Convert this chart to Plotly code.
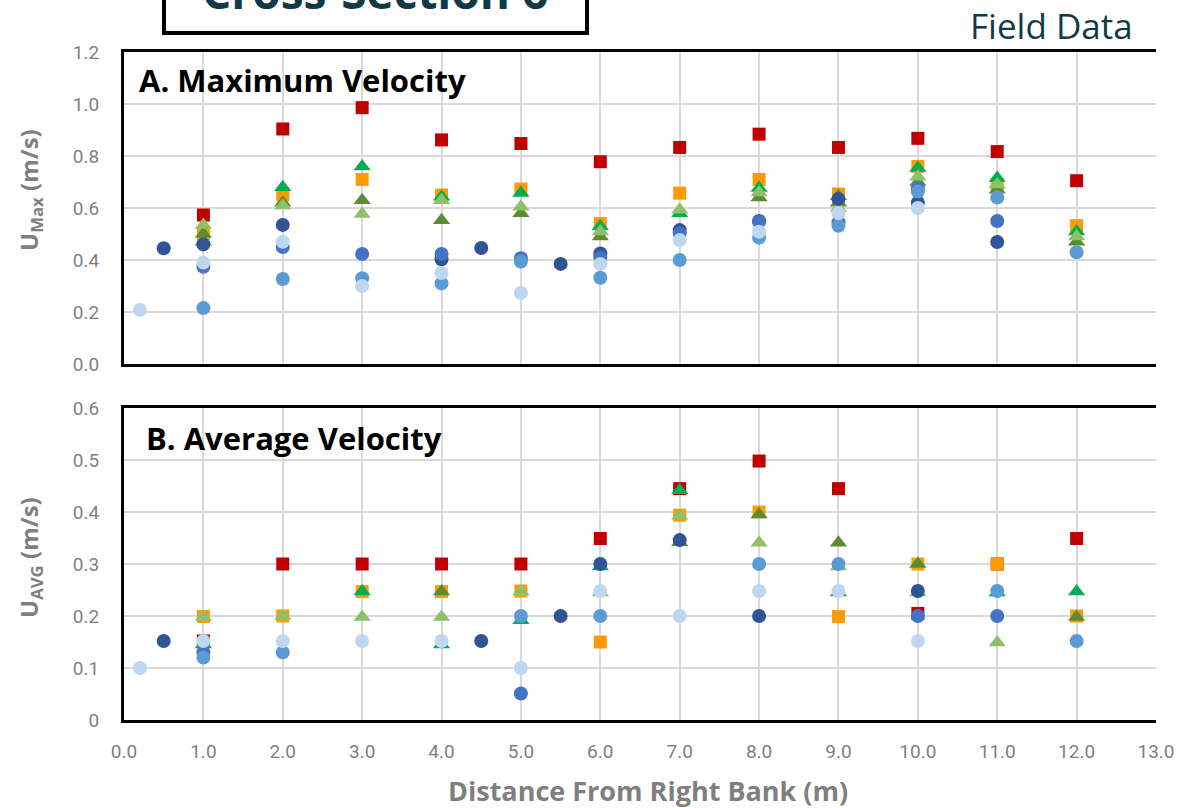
import plotly.graph_objects as go
from plotly.subplots import make_subplots

# ---------------- data ----------------
# Panel A: maximum velocity (m/s) vs distance from right bank (m)
umax_red_x = [1, 2, 3, 4, 5, 6, 7, 8, 9, 10, 11, 12]
umax_red_y = [0.573, 0.904, 0.986, 0.862, 0.848, 0.778, 0.833, 0.884, 0.833, 0.868, 0.817, 0.705]
umax_orange_x = [1, 2, 3, 4, 5, 6, 7, 8, 9, 10, 11, 12]
umax_orange_y = [0.50, 0.65, 0.71, 0.65, 0.673, 0.54, 0.657, 0.71, 0.654, 0.76, 0.69, 0.532]
umax_green_x = [1, 2, 3, 4, 5, 6, 7, 8, 9, 10, 11, 12]
umax_green_y = [0.47, 0.68, 0.76, 0.643, 0.658, 0.53, 0.58, 0.677, 0.645, 0.754, 0.715, 0.51]
umax_olive_x = [1, 2, 3, 4, 5, 6, 8, 9, 10, 11, 12]
umax_olive_y = [0.50, 0.62, 0.63, 0.553, 0.58, 0.49, 0.64, 0.62, 0.70, 0.67, 0.47]
umax_lgreen_x = [1, 2, 3, 4, 5, 6, 7, 8, 9, 10, 11, 12]
umax_lgreen_y = [0.535, 0.61, 0.577, 0.63, 0.605, 0.51, 0.593, 0.66, 0.60, 0.72, 0.69, 0.49]
umax_navy_x = [0.5, 1, 2, 4, 4.5, 5.5, 6, 7, 8, 9, 10, 11]
umax_navy_y = [0.445, 0.46, 0.535, 0.403, 0.446, 0.385, 0.425, 0.515, 0.55, 0.635, 0.62, 0.469]
umax_blue_x = [1, 2, 3, 4, 5, 6, 7, 8, 9, 10, 11]
umax_blue_y = [0.374, 0.45, 0.423, 0.423, 0.407, 0.41, 0.503, 0.547, 0.545, 0.675, 0.55]
umax_sky_x = [1, 2, 3, 4, 5, 6, 7, 8, 9, 10, 11, 12]
umax_sky_y = [0.215, 0.327, 0.33, 0.31, 0.394, 0.332, 0.40, 0.486, 0.532, 0.663, 0.64, 0.43]
umax_pale_x = [0.2, 1, 2, 3, 4, 5, 6, 7, 8, 9, 10]
umax_pale_y = [0.208, 0.39, 0.47, 0.30, 0.35, 0.273, 0.385, 0.477, 0.509, 0.58, 0.60]

# Panel B: average velocity (m/s)
uavg_red_x = [1, 2, 3, 4, 5, 6, 7, 8, 9, 10, 11, 12]
uavg_red_y = [0.152, 0.30, 0.30, 0.30, 0.30, 0.349, 0.445, 0.498, 0.445, 0.205, 0.30, 0.349]
uavg_orange_x = [1, 2, 3, 4, 5, 6, 7, 8, 9, 10, 11, 12]
uavg_orange_y = [0.199, 0.20, 0.247, 0.247, 0.248, 0.15, 0.394, 0.40, 0.199, 0.30, 0.30, 0.20]
uavg_green_x = [1, 3, 4, 5, 6, 7, 9, 11, 12]
uavg_green_y = [0.145, 0.247, 0.145, 0.192, 0.295, 0.442, 0.245, 0.245, 0.247]
uavg_olive_x = [4, 7, 8, 9, 10, 12]
uavg_olive_y = [0.247, 0.342, 0.395, 0.341, 0.30, 0.198]
uavg_lgreen_x = [1, 2, 3, 4, 5, 6, 7, 8, 9, 10, 11]
uavg_lgreen_y = [0.198, 0.20, 0.198, 0.198, 0.247, 0.245, 0.393, 0.341, 0.295, 0.245, 0.149]
uavg_navy_x = [0.5, 4.5, 5.5, 6, 7, 8, 10]
uavg_navy_y = [0.152, 0.152, 0.20, 0.30, 0.346, 0.20, 0.248]
uavg_blue_x = [1, 5, 10, 11]
uavg_blue_y = [0.13, 0.051, 0.20, 0.20]
uavg_sky_x = [1, 2, 5, 6, 8, 9, 11, 12]
uavg_sky_y = [0.12, 0.13, 0.20, 0.20, 0.30, 0.30, 0.248, 0.152]
uavg_pale_x = [0.2, 1, 2, 3, 4, 5, 6, 7, 8, 9, 10]
uavg_pale_y = [0.10, 0.152, 0.152, 0.152, 0.152, 0.10, 0.248, 0.20, 0.248, 0.248, 0.152]

x_tick_vals = [0, 1, 2, 3, 4, 5, 6, 7, 8, 9, 10, 11, 12, 13]
x_tick_text = ["0.0", "1.0", "2.0", "3.0", "4.0", "5.0", "6.0", "7.0", "8.0",
               "9.0", "10.0", "11.0", "12.0", "13.0"]
umax_tick_vals = [0, 0.2, 0.4, 0.6, 0.8, 1.0, 1.2]
umax_tick_text = ["0.0", "0.2", "0.4", "0.6", "0.8", "1.0", "1.2"]
uavg_tick_vals = [0, 0.1, 0.2, 0.3, 0.4, 0.5, 0.6]
uavg_tick_text = ["0", "0.1", "0.2", "0.3", "0.4", "0.5", "0.6"]

# ---------------- styling ----------------
W, H = 1191, 808
ML, MR = 124, 35
FONT = "Roboto"
TFONT = "Open Sans"
GREY = "#7f7f7f"
TEAL = "#123a46"
GRID = "#d9d9d9"

# drawing order: squares, then triangles, then circles
styles = [
    ("red", "square", "#c00000", 13),
    ("orange", "square", "#ff9a00", 13),
    ("green", "triangle-up", "#00b050", 15),
    ("olive", "triangle-up", "#5b8c32", 15),
    ("lgreen", "triangle-up", "#8cc168", 15),
    ("navy", "circle", "#2f5597", 14),
    ("blue", "circle", "#4472c4", 14),
    ("sky", "circle", "#5b9bd5", 14),
    ("pale", "circle", "#bdd7ee", 14),
]
g = globals()

fig = make_subplots(rows=2, cols=1, shared_xaxes=False)
for row, prefix in [(1, "umax"), (2, "uavg")]:
    for key, sym, col, size in styles:
        fig.add_trace(
            go.Scatter(
                x=g[f"{prefix}_{key}_x"], y=g[f"{prefix}_{key}_y"],
                mode="markers",
                marker=dict(symbol=sym, color=col, size=size, line=dict(width=0)),
                showlegend=False, hoverinfo="x+y",
            ),
            row=row, col=1,
        )


# pixel -> paper helpers (paper spans the area inside the margins)
def py(pix):
    return 1 - pix / H


def px(pix):
    return (pix - ML) / (W - ML - MR)


top_dom = [py(364), py(52)]
bot_dom = [py(720), py(408)]

axis_common = dict(
    range=[0, 13], tickvals=x_tick_vals, ticktext=x_tick_text,
    showgrid=True, gridcolor=GRID, gridwidth=1.5,
    showline=True, mirror=True, linecolor="black", linewidth=3,
    zeroline=False, ticks="", automargin=False,
    tickfont=dict(family=FONT, size=19, color=GREY),
)
yaxis_common = dict(
    showgrid=True, gridcolor=GRID, gridwidth=1.5, zeroline=False,
    showline=True, linecolor="black", linewidth=3, ticks="", automargin=False,
    ticklabelstandoff=18, tickfont=dict(family=FONT, size=19, color=GREY),
)
fig.update_layout(
    width=W, height=H,
    margin=dict(l=ML, r=MR, t=0, b=0, autoexpand=False),
    paper_bgcolor="white", plot_bgcolor="white",
    xaxis=dict(axis_common, showticklabels=False),
    xaxis2=dict(axis_common, showticklabels=True, ticklabelstandoff=12),
    yaxis=dict(yaxis_common, domain=top_dom, range=[0, 1.2],
               tickvals=umax_tick_vals, ticktext=umax_tick_text),
    yaxis2=dict(yaxis_common, domain=bot_dom, range=[0, 0.6],
                tickvals=uavg_tick_vals, ticktext=uavg_tick_text),
)

annos = [
    dict(text="<b>A. Maximum Velocity</b>", x=px(137), y=py(80), xanchor="left", yanchor="middle",
         font=dict(family=TFONT, size=31, color="black")),
    dict(text="<b>B. Average Velocity</b>", x=px(144), y=py(438), xanchor="left", yanchor="middle",
         font=dict(family=TFONT, size=31, color="black")),
    dict(text="<b>U<sub>Max</sub> (m/s)</b>", x=px(30), y=py(190), textangle=-90,
         xanchor="center", yanchor="middle", font=dict(family=TFONT, size=24, color=GREY)),
    dict(text="<b>U<sub>AVG</sub> (m/s)</b>", x=px(30), y=py(558), textangle=-90,
         xanchor="center", yanchor="middle", font=dict(family=TFONT, size=24, color=GREY)),
    dict(text="<b>Distance From Right Bank (m)</b>", x=px(648), y=py(790),
         xanchor="center", yanchor="middle", font=dict(family=TFONT, size=27, color=GREY)),
    dict(text="Field Data", x=px(1051), y=py(25), xanchor="center", yanchor="middle",
         font=dict(family=TFONT, size=35, color=TEAL)),
    dict(text="<b>Cross-Section 6</b>", x=px(375), y=py(24), xanchor="center", yanchor="bottom",
         font=dict(family=TFONT, size=46, color=TEAL)),
]
for a in annos:
    a.update(xref="paper", yref="paper", showarrow=False)
fig.update_layout(annotations=annos)

# frame around the section heading
fig.add_shape(type="rect", xref="paper", yref="paper",
              x0=px(164), x1=px(587), y0=py(33), y1=py(-20),
              line=dict(color="black", width=4), fillcolor="rgba(0,0,0,0)")

fig.write_html("out.html")
